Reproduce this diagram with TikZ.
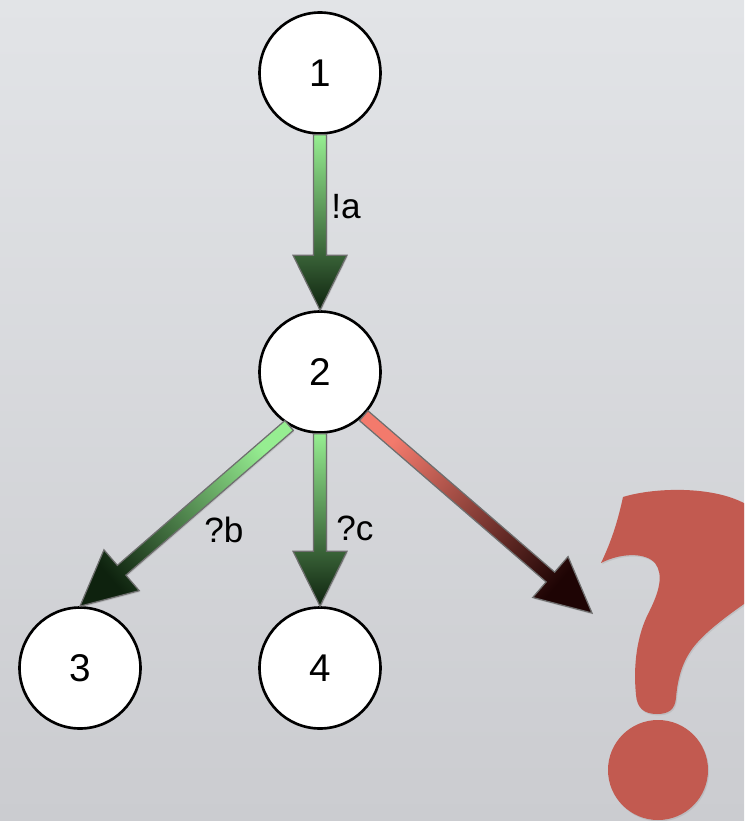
\documentclass[tikz,border=0pt]{standalone}
\usepackage{fontspec}
\setmainfont{Liberation Sans}
\usetikzlibrary{calc,shadows}

\definecolor{bgtop}{RGB}{226,228,231}
\definecolor{bgbot}{RGB}{203,204,208}
\definecolor{glight}{RGB}{150,238,145}
\definecolor{gdark}{RGB}{14,34,14}
\definecolor{rlight}{RGB}{243,122,108}
\definecolor{rdark}{RGB}{30,4,4}
\definecolor{qred}{RGB}{194,90,80}
\definecolor{edgegray}{RGB}{110,110,110}

\tikzstyle{state}  = [circle, draw=black, line width=1.5pt, fill=white, minimum size=2.42cm, inner sep=0pt, font=\fontsize{22}{26}\selectfont]
\tikzstyle{lbl}    = [anchor=west, inner sep=0pt, font=\fontsize{20}{24}\selectfont]
% fat arrow: shaft 0.26cm wide, head 1.08cm wide and 1.1cm long
\tikzstyle{fat}    = [draw=edgegray, line width=0.7pt, line join=miter,
  drop shadow={opacity=0.25, shadow xshift=0.5pt, shadow yshift=-0.8pt},
  to path={($(\tikztotarget)!1.1cm!(\tikztostart)$) coordinate (hb)
    ($(\tikztostart)!0.13cm!90:(\tikztotarget)$)
    -- ($(hb)!0.13cm!90:(\tikztotarget)$)
    -- ($(hb)!0.54cm!90:(\tikztotarget)$)
    -- (\tikztotarget)
    -- ($(hb)!0.54cm!-90:(\tikztotarget)$)
    -- ($(hb)!0.13cm!-90:(\tikztotarget)$)
    -- ($(\tikztostart)!0.13cm!-90:(\tikztotarget)$) -- cycle}]
\tikzstyle{fgreen} = [fat, top color=glight, bottom color=gdark]
\tikzstyle{fred}   = [fat, top color=rlight, bottom color=rdark]

\begin{document}
\begin{tikzpicture}[x=0.02cm, y=-0.02cm]
  \useasboundingbox (0,0) rectangle (744,821);
  \shade[top color=bgtop, bottom color=bgbot] (0,0) rectangle (744,821);

  \draw
    node[state] (n1) at (320,73)  {1}
    node[state] (n2) at (320,372) {2}
    node[state] (n3) at (80,668)  {3}
    node[state] (n4) at (320,668) {4};
  \coordinate (q) at (592,613);

  % transitions
  \path[fgreen] (n1.south) to (n2.north);
  \path[fgreen, shading angle=-49] (n2.240) to (n3.north);
  \path[fgreen] (n2.south) to (n4.north);
  \path[fred, shading angle=49] (n2.-45) to (q);

  \node[lbl] (la) at (331,207) {!a};
  \node[lbl] (lb) at (204,530) {?b};
  \node[lbl] (lc) at (336,528) {?c};

  % the big question mark
  \begin{scope}
    \clip (0,0) rectangle (744,821);
    \fill[qred, drop shadow={opacity=0.2, shadow xshift=0.6pt, shadow yshift=-0.8pt}]
      (623,497) .. controls (655,487) and (720,485) .. (752,508)
      .. controls (784,532) and (786,578) .. (744,604)
      .. controls (724,618) and (700,636) .. (690,652)
      .. controls (680,667) and (677,685) .. (676,698)
      .. controls (675,710) and (668,714) .. (657,714)
      .. controls (644,714) and (637,708) .. (636,695)
      .. controls (633,665) and (637,635) .. (649,612)
      .. controls (659,592) and (664,575) .. (655,563)
      .. controls (645,552) and (620,553) .. (601,563)
      .. controls (612,540) and (618,520) .. (623,497) -- cycle;
    \fill[qred, drop shadow={opacity=0.2, shadow xshift=0.6pt, shadow yshift=-0.8pt}]
      (658,770) circle [radius=50];
  \end{scope}
\end{tikzpicture}
\end{document}
